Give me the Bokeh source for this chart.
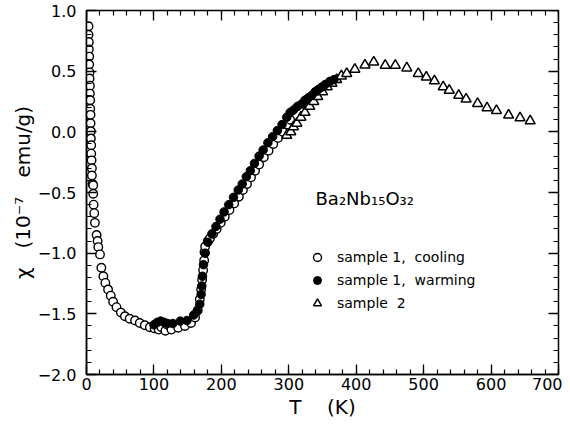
import numpy as np
from bokeh.plotting import figure
from bokeh.models import Range1d, FixedTicker, LinearAxis, Legend, LegendItem, Label
from bokeh.embed import file_html
from bokeh.resources import INLINE

# ---- data ----
cool_T = [3, 3, 3.5, 3.5, 4, 4, 4.5, 4.5, 5, 5, 5.5, 5.5, 6, 6, 6.5, 6.5, 7, 7, 7.5, 8,
          8, 9, 10, 10, 10.5, 11.5, 12.5, 15, 16.5, 17.5, 20, 22, 25, 28, 32, 36, 39.5, 44.5, 51, 57,
          64, 72, 79, 86.5, 94, 101, 107, 111, 117, 120, 126, 136, 146, 155, 161, 165, 168, 170, 171.5, 173,
          174.5, 175, 176, 180, 183, 188, 193, 199, 205, 212, 219, 226, 232, 238, 244, 250, 256, 263, 270, 277,
          284, 291, 298, 302]
cool_chi = [0.87, 0.80, 0.74, 0.68, 0.62, 0.555, 0.49, 0.44, 0.38, 0.315, 0.26, 0.19, 0.14, 0.07, 0.005, -0.055, -0.11, -0.18, -0.235, -0.30,
            -0.36, -0.43, -0.44, -0.51, -0.60, -0.67, -0.75, -0.85, -0.90, -0.95, -1.01, -1.12, -1.19, -1.245, -1.30, -1.35, -1.40, -1.445, -1.49, -1.52,
            -1.54, -1.555, -1.575, -1.594, -1.61, -1.62, -1.63, -1.61, -1.64, -1.59, -1.63, -1.615, -1.60, -1.575, -1.53, -1.47, -1.38, -1.30, -1.22, -1.14,
            -1.06, -0.99, -0.945, -0.90, -0.88, -0.84, -0.80, -0.75, -0.70, -0.645, -0.59, -0.535, -0.48, -0.43, -0.375, -0.32, -0.27, -0.21, -0.155, -0.10,
            -0.05, 0.0, 0.06, 0.10]

warm_T = [100, 105, 110, 115, 120, 128, 139, 149, 159, 164, 168, 170, 171, 172, 173.5, 176, 180, 186, 192, 198,
          204, 211, 218, 225, 231, 237, 243, 249, 256, 262, 269, 276, 283, 290, 297, 302, 307, 313, 319, 324,
          329, 334, 339, 344, 349, 354, 361, 367]
warm_chi = [-1.59, -1.57, -1.56, -1.57, -1.58, -1.58, -1.56, -1.555, -1.51, -1.48, -1.42, -1.34, -1.27, -1.19, -1.095, -1.0, -0.91, -0.84, -0.78, -0.72,
            -0.66, -0.60, -0.54, -0.48, -0.43, -0.37, -0.32, -0.26, -0.20, -0.15, -0.09, -0.04, 0.01, 0.06, 0.12, 0.16, 0.18, 0.21, 0.23, 0.26,
            0.28, 0.30, 0.33, 0.35, 0.37, 0.39, 0.416, 0.43]

s2_T = [297, 303, 307, 312, 318, 324, 331, 337, 343, 350, 357, 364, 371, 378, 386, 398, 413, 426, 443, 458,
        475, 492, 504, 516, 529, 538, 552, 563, 580, 594, 608, 626, 643, 658]
s2_chi = [-0.03, 0.0, 0.04, 0.07, 0.12, 0.16, 0.21, 0.25, 0.29, 0.33, 0.37, 0.40, 0.43, 0.46, 0.48, 0.515, 0.55, 0.575, 0.548, 0.548,
          0.526, 0.48, 0.45, 0.42, 0.37, 0.342, 0.30, 0.27, 0.233, 0.197, 0.175, 0.137, 0.115, 0.09]

x_ticks = [0, 100, 200, 300, 400, 500, 600, 700]
x_tick_labels = ["0", "100", "200", "300", "400", "500", "600", "700"]
y_ticks = [-2.0, -1.5, -1.0, -0.5, 0.0, 0.5, 1.0]
y_tick_labels = ["\u22122.0", "\u22121.5", "\u22121.0", "\u22120.5", "0.0", "0.5", "1.0"]

series_labels = ["sample\u00a01,\u00a0\u00a0cooling", "sample\u00a01,\u00a0\u00a0warming", "sample\u00a0\u00a02"]
compound = "Ba\u2082Nb\u2081\u2085O\u2083\u2082"
x_label = "T\u00a0\u00a0\u00a0\u00a0(K)"
y_label = "\u03c7\u00a0\u00a0\u00a0(10\u207b\u2077\u00a0\u00a0\u00a0emu/g)"

FONT = "DejaVu Sans"
X0, X1, Y0, Y1 = 0, 700, -2.0, 1.0

p = figure(width=562, height=421, output_backend="svg", toolbar_location=None,
           x_range=Range1d(X0, X1), y_range=Range1d(Y0, Y1),
           min_border_left=86, min_border_right=4, min_border_top=10, min_border_bottom=46,
           background_fill_color="white", border_fill_color="white")
p.grid.visible = False
p.outline_line_color = "black"
p.outline_line_width = 1.5

x_minor = [float(v) for v in np.arange(X0, X1 + 1, 20)]
y_minor = [float(v) for v in np.round(np.arange(Y0, Y1 + 0.001, 0.1), 2)]


def style_ticks(ax):
    ax.axis_line_color = "black"
    ax.axis_line_width = 1.5
    ax.major_tick_line_color = "black"
    ax.major_tick_line_width = 1.3
    ax.minor_tick_line_color = "black"
    ax.minor_tick_line_width = 1.2
    ax.major_tick_in = 10
    ax.major_tick_out = 0
    ax.minor_tick_in = 5
    ax.minor_tick_out = 0


p.xaxis.ticker = FixedTicker(ticks=x_ticks, minor_ticks=x_minor)
p.yaxis.ticker = FixedTicker(ticks=y_ticks, minor_ticks=y_minor)
p.xaxis.major_label_overrides = {v: s for v, s in zip(x_ticks, x_tick_labels)}
p.yaxis.major_label_overrides = {v: s for v, s in zip(y_ticks, y_tick_labels)}
for ax in (p.xaxis[0], p.yaxis[0]):
    style_ticks(ax)
    ax.major_label_text_font = FONT
    ax.major_label_text_font_size = "16px"
    ax.major_label_text_color = "black"
    ax.axis_label_text_font = FONT
    ax.axis_label_text_font_size = "20px"
    ax.axis_label_text_font_style = "normal"
    ax.axis_label_text_color = "black"
p.xaxis.major_label_standoff = 3
p.yaxis.major_label_standoff = 10
p.xaxis.axis_label = x_label
p.yaxis.axis_label = y_label
p.xaxis.axis_label_standoff = 2
p.yaxis.axis_label_standoff = 0

# mirrored tick marks on top and right edges (no labels)
for side, loc, major, minor in (("above", Y1, x_ticks, x_minor), ("right", X1, y_ticks, y_minor)):
    for ticks, length in ((minor, 5), (major, 10)):
        ax = LinearAxis(ticker=FixedTicker(ticks=[], minor_ticks=ticks), fixed_location=loc)
        ax.axis_line_color = None
        ax.major_tick_line_color = None
        ax.minor_tick_line_color = "black"
        ax.minor_tick_line_width = 1.3 if length == 10 else 1.2
        ax.minor_tick_in = length
        ax.minor_tick_out = 0
        p.add_layout(ax, side)

r_cool = p.scatter(cool_T, cool_chi, marker="circle", size=8.5, fill_color="white",
                   line_color="black", line_width=1.4)
r_s2 = p.scatter(s2_T, s2_chi, marker="triangle", size=10, fill_color="white",
                 line_color="black", line_width=1.5)
r_warm = p.scatter(warm_T, warm_chi, marker="circle", size=8.5, fill_color="black",
                   line_color="black", line_width=1.0)

legend = Legend(items=[LegendItem(label=series_labels[0], renderers=[r_cool]),
                       LegendItem(label=series_labels[1], renderers=[r_warm]),
                       LegendItem(label=series_labels[2], renderers=[r_s2])],
                location=(221, 61), padding=0, margin=0, spacing=3,
                glyph_width=20, glyph_height=20, label_height=20, label_standoff=10,
                label_text_font=FONT, label_text_font_size="14px", label_text_color="black",
                border_line_color=None, background_fill_alpha=0)
p.add_layout(legend, "center")

title = Label(x=229, y=176, x_units="screen", y_units="screen", text=compound,
              text_font=FONT, text_font_size="18px", text_baseline="middle",
              text_color="black")
p.add_layout(title)

open("out.html", "w").write(file_html(p, INLINE))
